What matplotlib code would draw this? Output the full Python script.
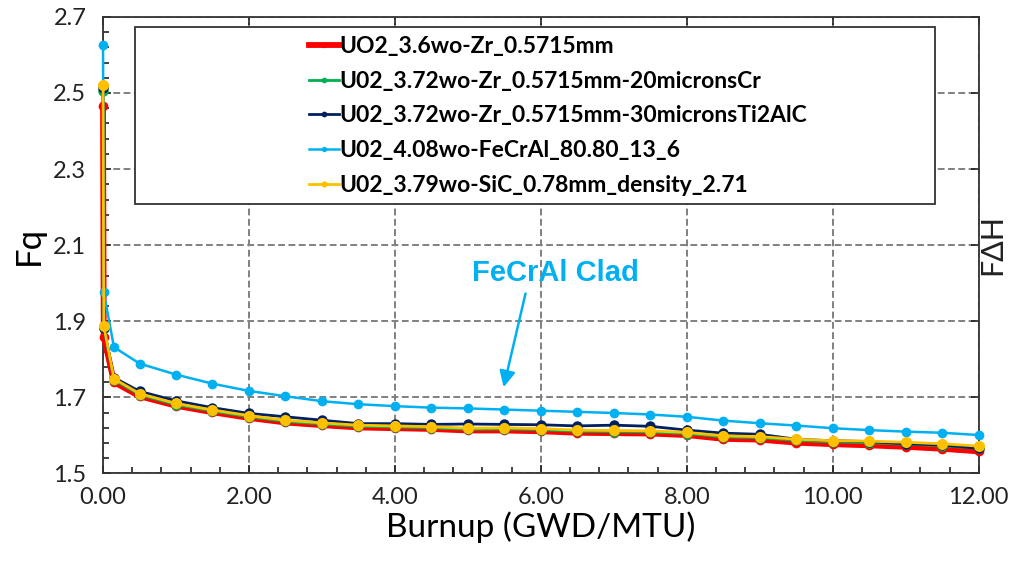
import matplotlib
matplotlib.use('Agg')
import matplotlib.pyplot as plt
import numpy as np
from matplotlib.patches import Rectangle
from matplotlib.ticker import MultipleLocator, FixedLocator, FormatStrFormatter

burnup = [0.0, 0.01, 0.15, 0.5, 1.0, 1.5, 2.0, 2.5, 3.0, 3.5, 4.0, 4.5, 5.0, 5.5,
          6.0, 6.5, 7.0, 7.5, 8.0, 8.5, 9.0, 9.5, 10.0, 10.5, 11.0, 11.5, 12.0]

fq_zr = [2.467, 1.860, 1.740, 1.703, 1.678, 1.661, 1.646, 1.634, 1.627, 1.621,
         1.619, 1.617, 1.613, 1.613, 1.611, 1.607, 1.606, 1.605, 1.601, 1.591,
         1.589, 1.581, 1.577, 1.574, 1.570, 1.565, 1.558]
fq_cr = [2.505, 1.883, 1.746, 1.707, 1.681, 1.664, 1.649, 1.637, 1.630, 1.624,
         1.622, 1.620, 1.616, 1.617, 1.615, 1.611, 1.610, 1.609, 1.605, 1.596,
         1.594, 1.587, 1.583, 1.581, 1.577, 1.573, 1.566]
fq_ti2alc = [2.512, 1.882, 1.752, 1.716, 1.691, 1.673, 1.658, 1.649, 1.640, 1.631,
             1.631, 1.629, 1.630, 1.629, 1.628, 1.625, 1.627, 1.624, 1.614, 1.606,
             1.603, 1.590, 1.586, 1.584, 1.578, 1.575, 1.566]
fq_fecral = [2.625, 1.976, 1.832, 1.789, 1.760, 1.736, 1.717, 1.703, 1.690, 1.682,
             1.677, 1.673, 1.671, 1.668, 1.665, 1.662, 1.659, 1.655, 1.649, 1.639,
             1.632, 1.626, 1.619, 1.614, 1.610, 1.607, 1.601]
fq_sic = [2.522, 1.887, 1.749, 1.710, 1.684, 1.667, 1.652, 1.640, 1.633, 1.627,
          1.625, 1.623, 1.619, 1.620, 1.618, 1.614, 1.613, 1.612, 1.608, 1.599,
          1.597, 1.590, 1.586, 1.585, 1.582, 1.578, 1.572]

labels = ['UO2_3.6wo-Zr_0.5715mm',
          'U02_3.72wo-Zr_0.5715mm-20micronsCr',
          'U02_3.72wo-Zr_0.5715mm-30micronsTi2AlC',
          'U02_4.08wo-FeCrAl_80.80_13_6',
          'U02_3.79wo-SiC_0.78mm_density_2.71']

plt.rcParams['font.family'] = ['Lato', 'DejaVu Sans']

fig = plt.figure(figsize=(10.1, 5.63), dpi=100)
ax = fig.add_axes([0.102, 0.159, 0.867, 0.811])

series = [
    (fq_zr, '#FF0000', 4.2, 7.0),
    (fq_cr, '#00B050', 2.0, 7.5),
    (fq_ti2alc, '#002060', 2.0, 7.5),
    (fq_fecral, '#00B0F0', 1.8, 7.0),
    (fq_sic, '#FFC000', 2.0, 8.0),
]
for (vals, col, lw, ms), lab in zip(series, labels):
    ax.plot(burnup, vals, color=col, lw=lw, marker='o', ms=ms,
            markeredgewidth=0, label=lab, clip_on=False, zorder=3)

ax.set_xlim(0, 12)
ax.set_ylim(1.5, 2.7)
ax.xaxis.set_major_locator(MultipleLocator(2))
ax.xaxis.set_minor_locator(MultipleLocator(0.4))
ax.yaxis.set_major_locator(FixedLocator(np.linspace(1.5, 2.7, 7)))
ax.yaxis.set_minor_locator(FixedLocator(np.linspace(1.5, 2.7, 31)))
ax.xaxis.set_major_formatter(FormatStrFormatter('%.2f'))
ax.yaxis.set_major_formatter(FormatStrFormatter('%.1f'))

ax.tick_params(which='both', direction='in', colors='#222222', labelsize=17,
               width=1.2)
ax.tick_params(which='major', length=6, top=True, right=True)
ax.tick_params(which='minor', length=4)
ax.tick_params(axis='y', pad=12)
ax.tick_params(axis='x', pad=10)

ax.grid(True, which='major', color='#808080', lw=1.4, linestyle=(0, (3.5, 1.8)))
ax.set_axisbelow(True)
for s in ax.spines.values():
    s.set_color('#333333')
    s.set_linewidth(1.3)

ax.set_xlabel('Burnup (GWD/MTU)', fontsize=24, labelpad=2)
ax.set_ylabel('Fq', fontsize=25, labelpad=6)

# legend frame drawn separately (box is much wider than its text)
ax.add_patch(Rectangle((0.0365, 0.59), 0.9135, 0.387, transform=ax.transAxes,
                       fill=True, facecolor='white', edgecolor='#333333',
                       lw=1.3, zorder=4))
leg = ax.legend(loc='center left', bbox_to_anchor=(0.222, 0.783), frameon=False,
                prop={'family': 'Lato', 'weight': 'bold', 'size': 16.5},
                handlelength=1.3, handletextpad=0.05, labelspacing=0.6,
                borderpad=0, markerscale=0.55)
leg.set_zorder(5)

# FeCrAl annotation
ax.text(6.2, 2.027, 'FeCrAl Clad', color='#00B0F0', fontsize=21,
        fontweight='bold', family='Liberation Sans', ha='center', va='center')
ax.annotate('', xy=(5.49, 1.727), xytext=(5.79, 1.973),
            arrowprops=dict(arrowstyle='-|>', color='#00B0F0', lw=1.8,
                            mutation_scale=24, shrinkA=0, shrinkB=0))

# right axis label
fig.text(0.996, 0.565, 'FΔH', rotation=90, fontsize=22, ha='right', va='center',
         color='#222222')

fig.savefig('out.png', dpi=100)
